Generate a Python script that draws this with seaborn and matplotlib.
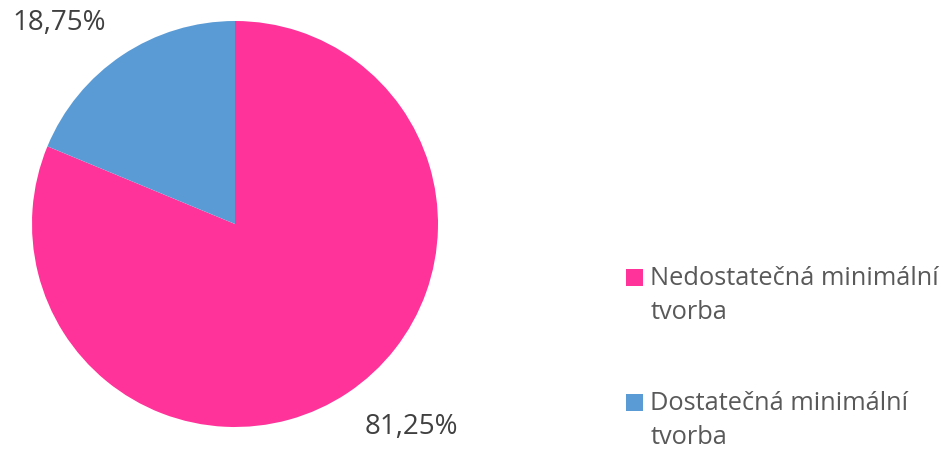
import matplotlib
matplotlib.use("Agg")
import numpy as np
import matplotlib.pyplot as plt
import seaborn as sns
from matplotlib.patches import Patch, Rectangle
from matplotlib.legend_handler import HandlerPatch

categories = ["Nedostatečná minimální\ntvorba", "Dostatečná minimální\ntvorba"]
values = [81.25, 18.75]
colors = ["#FF3399", "#5B9BD5"]

sns.set_theme(style="white")
plt.rcParams['font.family'] = ['Open Sans', 'DejaVu Sans']

fig = plt.figure(figsize=(9.45, 4.52), dpi=100)
ax = fig.add_axes([32/945, 24/452, 406/945, 406/452])

wedges, texts, autotexts = ax.pie(
    values, colors=colors, startangle=90, counterclock=False,
    autopct=lambda p: f"{p:.2f}%".replace(".", ","), pctdistance=1.32,
    textprops=dict(color="#404040", fontsize=20),
    wedgeprops=dict(linewidth=0))
# shift labels slightly (best-fit style placement)
for w, t in zip(wedges, autotexts):
    ang = np.deg2rad((w.theta1 + w.theta2) / 2 + 7.3)
    t.set_position((1.32 * np.cos(ang), 1.32 * np.sin(ang)))
ax.set_xlim(-1, 1)
ax.set_ylim(-1, 1)
ax.set_aspect("equal")
ax.axis("off")

LINE_OFFSET = 12.6  # points: align marker with first text line


def top_square(legend, orig_handle, xdescent, ydescent, width, height, fontsize):
    return Rectangle((-xdescent, -ydescent + LINE_OFFSET), width, height)


handles = [Patch(facecolor=c, edgecolor="none") for c in colors]
leg = fig.legend(handles, categories, loc="upper left",
                 bbox_to_anchor=(626/945, 1 - 266/452),
                 frameon=False, fontsize=18.3, labelspacing=2.6,
                 handlelength=0.65, handleheight=0.65, handletextpad=0.31,
                 borderpad=0, borderaxespad=0,
                 handler_map={Patch: HandlerPatch(patch_func=top_square)})
for t in leg.get_texts():
    t.set_color("#595959")
    t.set_linespacing(1.48)

fig.savefig("out.png", dpi=100)
